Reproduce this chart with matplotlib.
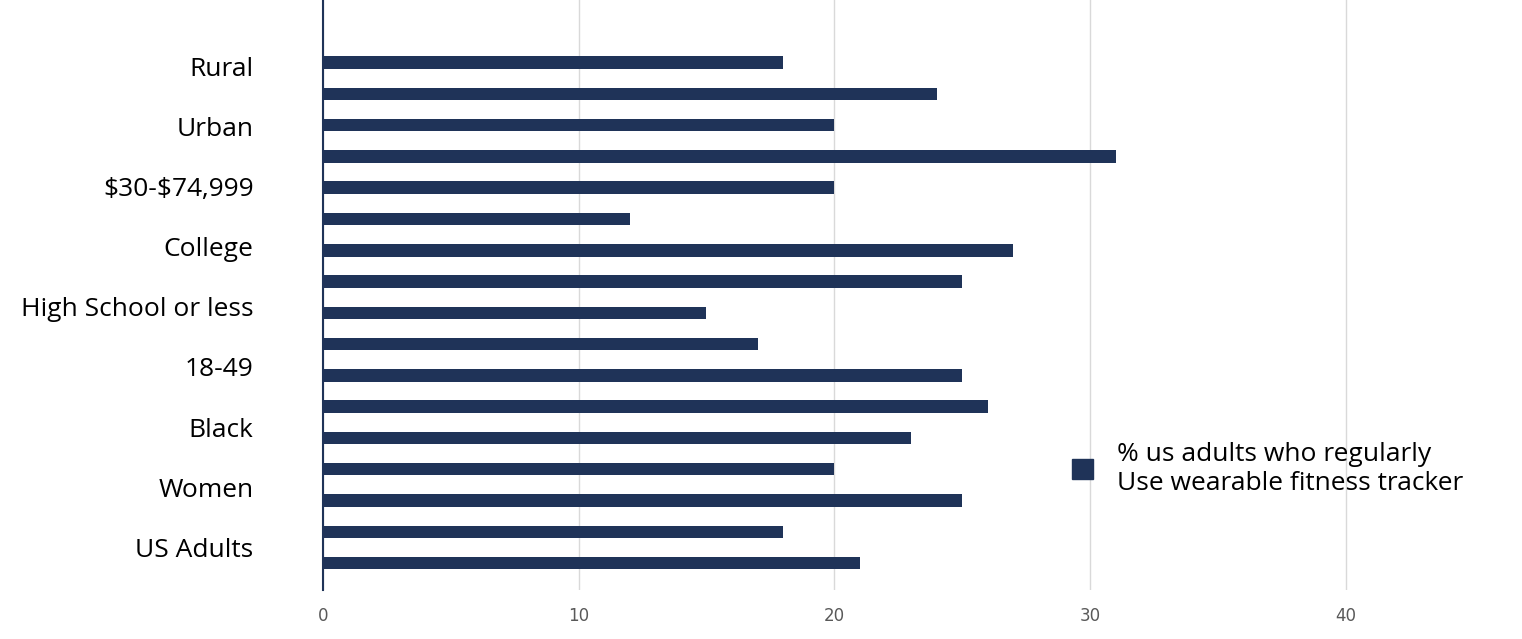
import matplotlib.pyplot as plt
import numpy as np
from matplotlib.patches import Patch

# bar values, bottom to top
values = [21, 18, 25, 20, 23, 26, 25, 17, 15, 25, 27, 12, 20, 31, 20, 24, 18]
labels = ["US Adults", "Women", "Black", "18-49", "High School or less",
          "College", r"\$30-\$74,999", "Urban", "Rural"]
color = "#1f3358"

fig = plt.figure(figsize=(15.22, 6.39), dpi=100)
ax = fig.add_axes([0.2122, 0.0767, 0.7878, 0.9233])

y = np.arange(len(values))
ax.barh(y, values, height=0.4, color=color, zorder=3)

ax.set_xlim(0, 46.9)
ax.set_ylim(-0.86, 18.0)
ax.set_xticks([0, 10, 20, 30, 40])
ax.tick_params(axis="x", length=0, labelsize=12, labelcolor="#595959", pad=12)
ax.set_yticks(np.linspace(0.51, 15.87, len(labels)))
ax.set_yticklabels(labels, fontsize=19, fontfamily="Open Sans")
ax.tick_params(axis="y", length=0, pad=50)
ax.xaxis.grid(True, color="#d9d9d9", linewidth=1, zorder=0)
for s in ["top", "right", "bottom"]:
    ax.spines[s].set_visible(False)
ax.spines["left"].set_color(color)
ax.spines["left"].set_linewidth(1.5)

ax.legend(handles=[Patch(color=color)],
          labels=["% us adults who regularly\nUse wearable fitness tracker"],
          loc="center left", bbox_to_anchor=(0.605, 0.205), frameon=False,
          prop={"family": "Open Sans", "size": 19}, handlelength=0.8,
          handleheight=0.8, handletextpad=0.9, labelspacing=0.3)

fig.savefig("out.png")
